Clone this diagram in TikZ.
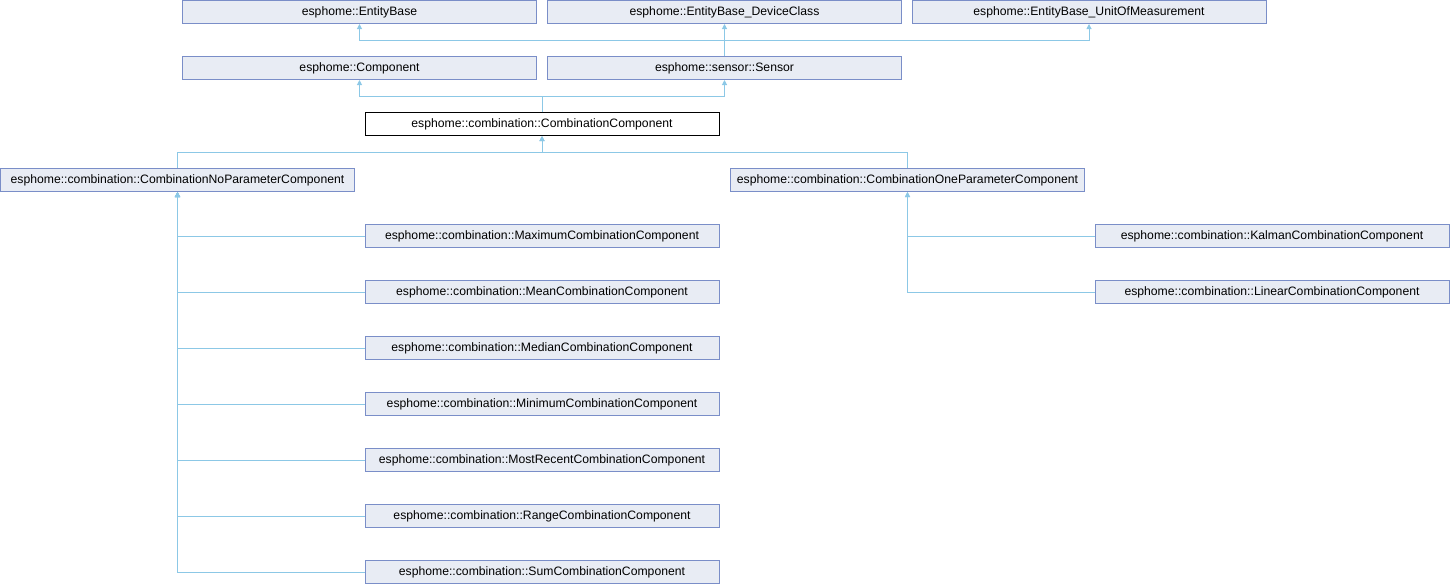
\documentclass[tikz,border=0pt]{standalone}
\usepackage{fontspec}
\setmainfont{Liberation Sans}
\usetikzlibrary{arrows.meta}
\definecolor{boxfill}{RGB}{232,236,244}
\definecolor{boxline}{RGB}{122,142,200}
\definecolor{edgecol}{RGB}{140,200,230}
\tikzset{
  cls/.style={draw=boxline, fill=boxfill, line width=1pt, minimum width=354pt, minimum height=23pt, inner sep=0pt, font=\fontsize{12.2}{14}\selectfont},
  cur/.style={cls, draw=black, fill=white},
  edge/.style={draw=edgecol, line width=1pt, -{Triangle[width=5pt,length=5pt]}},
}
\begin{document}
\begin{tikzpicture}[x=1pt,y=-1pt]
\useasboundingbox (0,0) rectangle (1450,584);
% row 0
\node[cls] (eb) at (359.5,12) {esphome::EntityBase};
\node[cls] (dc) at (724.5,12) {esphome::EntityBase\_DeviceClass};
\node[cls] (uom) at (1089,12) {esphome::EntityBase\_UnitOfMeasurement};
% row 1
\node[cls] (comp) at (359.5,68) {esphome::Component};
\node[cls] (sensor) at (724.5,68) {esphome::sensor::Sensor};
% row 2
\node[cur] (cc) at (542,124) {esphome::combination::CombinationComponent};
% row 3
\node[cls] (nop) at (177.5,180) {esphome::combination::CombinationNoParameterComponent};
\node[cls] (onep) at (907.5,180) {esphome::combination::CombinationOneParameterComponent};
% children
\node[cls] (max) at (542,236) {esphome::combination::MaximumCombinationComponent};
\node[cls] (mean) at (542,292) {esphome::combination::MeanCombinationComponent};
\node[cls] (median) at (542,348) {esphome::combination::MedianCombinationComponent};
\node[cls] (min) at (542,404) {esphome::combination::MinimumCombinationComponent};
\node[cls] (recent) at (542,460) {esphome::combination::MostRecentCombinationComponent};
\node[cls] (range) at (542,516) {esphome::combination::RangeCombinationComponent};
\node[cls] (sum) at (542,572) {esphome::combination::SumCombinationComponent};
\node[cls] (kalman) at (1272,236) {esphome::combination::KalmanCombinationComponent};
\node[cls] (linear) at (1272,292) {esphome::combination::LinearCombinationComponent};
% buses
\coordinate (bus1) at (0,40);
\coordinate (bus2) at (0,96.5);
\coordinate (bus3) at (0,152.5);
% edges
\draw[edge] (sensor.north) -- (sensor.north |- bus1) -| (eb.south);
\draw[edge] (sensor.north) -- (dc.south);
\draw[edge] (sensor.north) -- (sensor.north |- bus1) -| (uom.south);
\draw[edge] (cc.north) -- (cc.north |- bus2) -| (comp.south);
\draw[edge] (cc.north) -- (cc.north |- bus2) -| (sensor.south);
\draw[edge] (nop.north) -- (nop.north |- bus3) -| (cc.south);
\draw[edge] (onep.north) -- (onep.north |- bus3) -| (cc.south);
\foreach \c in {max,mean,median,min,recent,range,sum}{
  \draw[edge] (\c.west) -| (nop.south);
}
\foreach \c in {kalman,linear}{
  \draw[edge] (\c.west) -| (onep.south);
}
\end{tikzpicture}
\end{document}
